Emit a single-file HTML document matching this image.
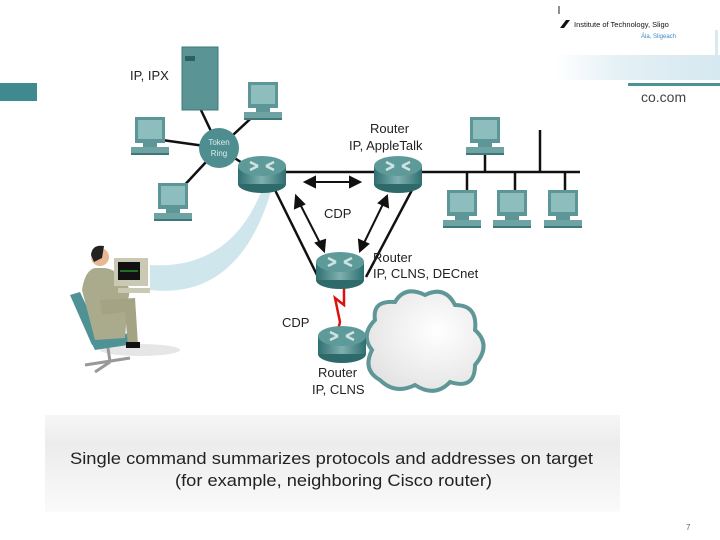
<!DOCTYPE html>
<html><head><meta charset="utf-8"><style>
html,body{margin:0;padding:0;background:#fff;}
svg{display:block;font-family:"Liberation Sans",Arial,sans-serif;}
</style></head><body>
<svg width="720" height="540" viewBox="0 0 720 540" xmlns="http://www.w3.org/2000/svg">
<defs>
<linearGradient id="rt" x1="0" x2="1"><stop offset="0" stop-color="#2f6f70"/><stop offset="0.5" stop-color="#7fb0b0"/><stop offset="1" stop-color="#2f6f70"/></linearGradient>
<linearGradient id="cap" x1="0" y1="0" x2="0" y2="1"><stop offset="0" stop-color="#f6f6f6"/><stop offset="0.3" stop-color="#ececec"/><stop offset="1" stop-color="#fafafa"/></linearGradient>
<linearGradient id="hdr" x1="0" x2="1"><stop offset="0" stop-color="#fff"/><stop offset="0.4" stop-color="#e4f0f5"/><stop offset="1" stop-color="#d6e8f0"/></linearGradient>
<radialGradient id="cl" cx="0.6" cy="0.4" r="0.7"><stop offset="0" stop-color="#fff"/><stop offset="1" stop-color="#e2e2e2"/></radialGradient>
<g id="router"><ellipse cx="0" cy="12" rx="24" ry="9" fill="#2f6a6b"/><rect x="-24" y="-6" width="48" height="18" fill="url(#rt)"/><ellipse cx="0" cy="-6" rx="24" ry="10" fill="#5f9a9b"/><path d="M-12,-10 L-4,-6 M12,-2 L4,-6 M-12,-2 L-4,-6 M12,-10 L4,-6" stroke="#cfe3e3" stroke-width="2.5"/></g>
<g id="pc"><rect x="0" y="0" width="30" height="26" fill="#5d9697"/><rect x="3" y="3" width="24" height="19" fill="#8dbdbd"/><rect x="8" y="26" width="14" height="4" fill="#5d9697"/><rect x="-4" y="30" width="38" height="6" fill="#6fa3a3"/><rect x="-4" y="36" width="38" height="2" fill="#3f7878"/></g>
</defs>
<rect x="0" y="83" width="37" height="18" fill="#3e8a8f"/>
<rect x="555" y="55" width="165" height="25" fill="url(#hdr)"/>
<line x1="559" y1="6" x2="559" y2="14" stroke="#222"/>
<path d="M560,28 L566,20 L570,20 L564,28Z" fill="#111"/>
<text x="574" y="27" font-size="7.5" fill="#111">Institute of Technology, Sligo</text>
<text x="641" y="38" font-size="6" fill="#3a8ac0">Ála, Sligeach</text>
<rect x="715" y="30" width="3" height="25" fill="#d9e9ef"/>
<rect x="628" y="83" width="92" height="3" fill="#4c9396"/>
<text x="641" y="102" font-size="14" fill="#444">co.com</text>
<rect x="45" y="415" width="575" height="97" fill="url(#cap)"/>
<text x="70" y="464" font-size="17" textLength="523" lengthAdjust="spacingAndGlyphs" fill="#222">Single command summarizes protocols and addresses on target</text>
<text x="175" y="486" font-size="17" textLength="317" lengthAdjust="spacingAndGlyphs" fill="#222">(for example, neighboring Cisco router)</text>
<text x="686" y="530" font-size="8" fill="#666">7</text>
<path d="M262,190 Q230,270 150,265 L150,290 Q240,300 272,188Z" fill="#cfe6ec"/>
<g stroke="#111" stroke-width="2.5">
<line x1="219" y1="148" x2="200" y2="108"/><line x1="219" y1="148" x2="262" y2="108"/>
<line x1="219" y1="148" x2="162" y2="140"/><line x1="219" y1="148" x2="180" y2="190"/>
<line x1="219" y1="148" x2="250" y2="168"/>
<line x1="286" y1="172" x2="580" y2="172"/>
<line x1="540" y1="130" x2="540" y2="172"/>
<line x1="485" y1="150" x2="485" y2="172"/>
<line x1="467" y1="172" x2="467" y2="190"/><line x1="515" y1="172" x2="515" y2="190"/><line x1="565" y1="172" x2="565" y2="190"/>
<line x1="275" y1="190" x2="318" y2="277"/><line x1="412" y1="190" x2="366" y2="277"/>
</g>
<g stroke="#111" stroke-width="2" fill="#111">
<line x1="312" y1="182" x2="352" y2="182"/><path d="M305,182 L315,177 L315,187Z"/><path d="M360,182 L350,177 L350,187Z"/>
<line x1="300" y1="204" x2="320" y2="243"/><path d="M296,196 L295,208 L304,204Z"/><path d="M324,251 L316,243 L325,240Z"/>
<line x1="383" y1="204" x2="364" y2="243"/><path d="M387,196 L379,203 L388,207Z"/><path d="M360,251 L359,240 L368,244Z"/>
</g>
<path d="M344,285 L344,305 L335,298 L340,322 L338,330" stroke="#d11" stroke-width="2.5" fill="none"/>
<rect x="182" y="47" width="36" height="63" fill="#5a9495"/><rect x="182" y="47" width="36" height="63" fill="none" stroke="#3f7878"/>
<rect x="185" y="56" width="10" height="5" fill="#2f5f60"/>
<text x="130" y="80" font-size="13" fill="#222">IP, IPX</text>
<use href="#pc" x="248" y="82"/>
<use href="#pc" x="135" y="117"/>
<use href="#pc" x="158" y="183"/>
<use href="#pc" x="470" y="117"/>
<use href="#pc" x="447" y="190"/>
<use href="#pc" x="497" y="190"/>
<use href="#pc" x="548" y="190"/>
<circle cx="219" cy="148" r="20" fill="#4f8e90"/>
<text x="219" y="145" font-size="8" text-anchor="middle" fill="#d8ecec">Token</text>
<text x="219" y="156" font-size="8" text-anchor="middle" fill="#d8ecec">Ring</text>
<use href="#router" x="262" y="172"/>
<use href="#router" x="398" y="172"/>
<use href="#router" x="340" y="268"/>
<text x="370" y="133" font-size="13" fill="#222">Router</text>
<text x="349" y="150" font-size="13" fill="#222">IP, AppleTalk</text>
<text x="324" y="218" font-size="13" fill="#222">CDP</text>
<text x="373" y="262" font-size="13" fill="#222">Router</text>
<text x="373" y="278" font-size="13" fill="#222">IP, CLNS, DECnet</text>
<path d="M375,320 Q372,300 395,302 Q405,285 425,295 Q445,285 455,305 Q478,305 475,330 Q492,345 475,365 Q475,390 450,382 Q435,398 415,385 Q395,395 380,380 Q362,370 372,350 Q360,335 375,320Z" fill="url(#cl)" stroke="#5f9798" stroke-width="4"/>
<text x="282" y="327" font-size="13" fill="#222">CDP</text>
<use href="#router" x="342" y="342"/>
<text x="318" y="377" font-size="13" fill="#222">Router</text>
<text x="312" y="394" font-size="13" fill="#222">IP, CLNS</text>
<ellipse cx="140" cy="350" rx="40" ry="6" fill="#e6e6e6"/>
<path d="M70,295 L80,292 L100,335 L92,345Z" fill="#4f9295"/>
<path d="M90,340 L130,333 L128,345 L95,350Z" fill="#4f9295"/>
<path d="M108,348 L110,362 M85,365 L130,358 M110,362 L95,372" stroke="#999" stroke-width="3" fill="none"/>
<path d="M95,268 Q85,270 82,290 L95,340 L125,338 L128,300 L130,290 Q120,270 105,268Z" fill="#a9ab8c"/>
<path d="M100,300 L135,298 L138,345 L128,346 L125,312 L102,315Z" fill="#a4a485"/>
<rect x="126" y="342" width="14" height="6" fill="#111"/>
<circle cx="100" cy="257" r="9" fill="#e8b894"/>
<path d="M91,255 Q92,244 104,246 L102,258 L94,262Z" fill="#222"/>
<rect x="114" y="258" width="34" height="28" fill="#c9c9b4"/>
<rect x="118" y="262" width="22" height="18" fill="#111"/>
<line x1="120" y1="271" x2="138" y2="271" stroke="#3c3" stroke-width="1"/>
<rect x="118" y="288" width="32" height="5" fill="#c9c9b4"/>
</svg>
</body></html>
